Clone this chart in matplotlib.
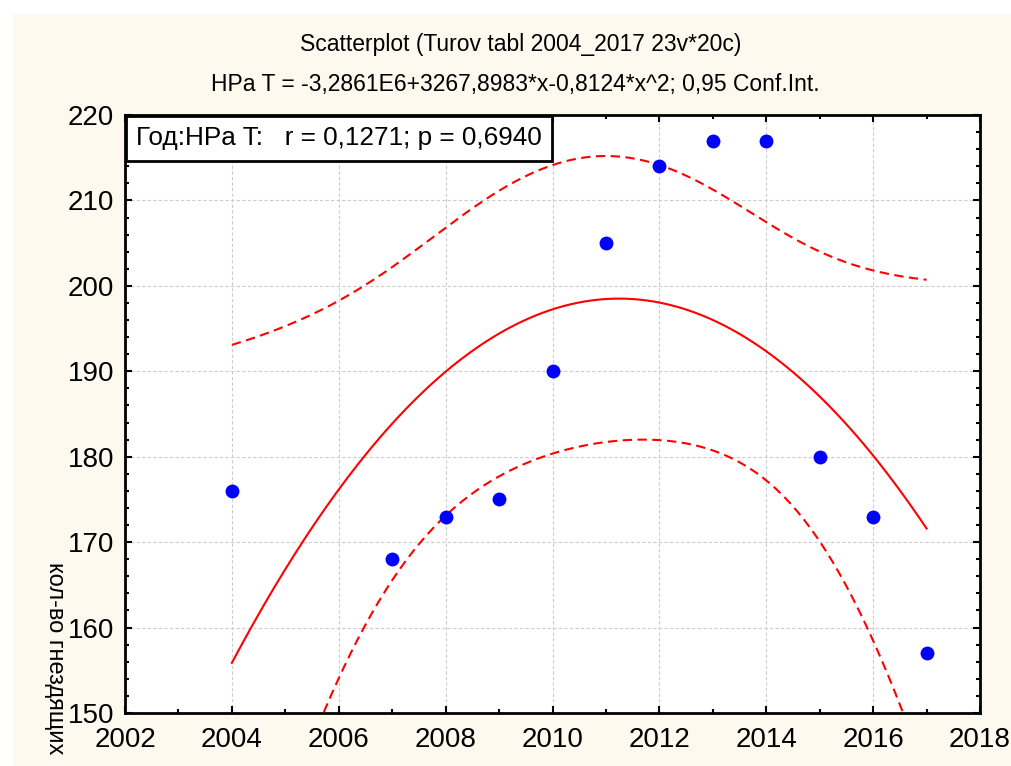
import matplotlib
matplotlib.use('Agg')
import matplotlib.pyplot as plt
import numpy as np
from matplotlib.patches import Rectangle
from matplotlib.ticker import MultipleLocator

plt.rcParams['font.family'] = ['Liberation Sans', 'DejaVu Sans']

# data
years = np.array([2004, 2007, 2008, 2009, 2010, 2011, 2012, 2013, 2014, 2015, 2016, 2017])
nests = np.array([176, 168, 173, 175, 190, 205, 214, 217, 217, 180, 173, 157])

TITLE_1 = 'Scatterplot (Turov tabl 2004_2017 23v*20c)'
TITLE_2 = 'HPa T = -3,2861E6+3267,8983*x-0,8124*x^2; 0,95 Conf.Int.'
BOX_TEXT = 'Год:HPa T:   r = 0,1271; p = 0,6940'
Y_LABEL = 'кол-во гнездящих'
T_975 = 2.2622   # Student t, 9 df

BG = '#fdf9ef'

# quadratic fit with 95% confidence band for the mean
xc = years - years.mean()
X = np.column_stack([np.ones_like(xc), xc, xc ** 2]).astype(float)
beta = np.linalg.lstsq(X, nests, rcond=None)[0]
dof = len(years) - 3
s2 = np.sum((nests - X @ beta) ** 2) / dof
cov = s2 * np.linalg.inv(X.T @ X)

xs = np.linspace(years.min(), years.max(), 200)
xsc = xs - years.mean()
Xs = np.column_stack([np.ones_like(xsc), xsc, xsc ** 2])
fit = Xs @ beta
se = np.sqrt(np.einsum('ij,jk,ik->i', Xs, cov, Xs))
upper = fit + T_975 * se
lower = fit - T_975 * se

fig = plt.figure(figsize=(10.12, 7.66), dpi=100, facecolor='white')
fig.patches.append(Rectangle((13 / 1012, 0), 1, 1 - 14 / 766, transform=fig.transFigure,
                             facecolor=BG, edgecolor='none', zorder=-5))

ax = fig.add_axes([125 / 1012, 1 - 713 / 766, 855 / 1012, 598 / 766])
ax.set_facecolor('white')

dash = (0, (4.5, 2.6))
ax.plot(xs, fit, color='red', lw=1.5, zorder=3)
ax.plot(xs, upper, color='red', lw=1.5, ls=dash, zorder=3)
ax.plot(xs, lower, color='red', lw=1.5, ls=dash, zorder=3)
ax.plot(years, nests, 'o', color='blue', markersize=10, markeredgewidth=0, zorder=4)

ax.set_xlim(2002, 2018)
ax.set_ylim(150, 220)
ax.xaxis.set_major_locator(MultipleLocator(2))
ax.xaxis.set_minor_locator(MultipleLocator(1))
ax.yaxis.set_major_locator(MultipleLocator(10))
ax.yaxis.set_minor_locator(MultipleLocator(2))
ax.tick_params(which='both', direction='in', top=True, right=True, width=1.5,
               labelsize=20, pad=8)
ax.tick_params(axis='x', pad=10)
ax.tick_params(which='major', length=5)
ax.tick_params(which='minor', length=3)
ax.grid(True, which='major', color='#cccccc', ls=(0, (3, 2)), lw=0.8)
for sp in ax.spines.values():
    sp.set_linewidth(2)

box_fs = 18.8
box_pad = 0.4 * box_fs
ax.annotate(BOX_TEXT, xy=(0, 1), xycoords='axes fraction',
            xytext=(box_pad + 0.5, -box_pad - 0.5), textcoords='offset points',
            fontsize=box_fs, ha='left', va='top',
            bbox=dict(boxstyle='square,pad=0.4', facecolor='white', edgecolor='black', lw=2),
            zorder=6)

fig.text(521 / 1012, 1 - 45 / 766, TITLE_1, ha='center', va='center', fontsize=16.5)
fig.text(515 / 1012, 1 - 85 / 766, TITLE_2, ha='center', va='center', fontsize=16.5)
fig.text(55 / 1012, 1 - 562 / 766, Y_LABEL, rotation=-90, ha='center', va='top', fontsize=17)

fig.savefig('out.png', dpi=100, facecolor=fig.get_facecolor())
